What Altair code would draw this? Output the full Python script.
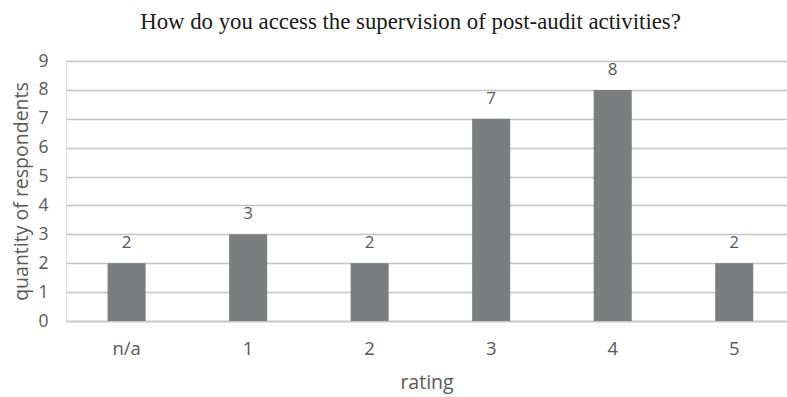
import altair as alt
import pandas as pd

categories = ["n/a", "1", "2", "3", "4", "5"]
counts = [2, 3, 2, 7, 8, 2]

df = pd.DataFrame({"rating": categories, "count": counts})

xscale = alt.Scale(paddingInner=0.687, paddingOuter=0.31, align=0.552)
yscale = alt.Scale(domain=[0, 9], nice=False)

x = alt.X("rating:N", sort=categories, title="rating", scale=xscale,
          axis=alt.Axis(labelAngle=0, ticks=False, domain=True, domainColor="#c4c4c4",
                        domainWidth=1.5, labelFont="Open Sans", labelFontSize=18.5,
                        labelColor="#595959", labelPadding=18, titleFont="Open Sans",
                        titleFontSize=19.5, titleFontWeight="normal", titleColor="#595959",
                        titlePadding=16, grid=False))

y = alt.Y("count:Q", title="quantity of respondents", scale=yscale,
          axis=alt.Axis(values=list(range(10)), ticks=False, domain=False,
                        labelOverlap=False,
                        gridColor="#c4c4c4", gridWidth=1.5, labelFont="Open Sans",
                        labelFontSize=17.5, labelColor="#595959", labelPadding=18,
                        titleFont="Open Sans", titleFontSize=19.5, titleFontWeight="normal",
                        titleColor="#595959", titlePadding=6))

base = alt.Chart(df).encode(x=x, y=y)
bars = base.mark_bar(color="#7b7d7f")
labels = base.mark_text(dy=-20, font="Open Sans", fontSize=17,
                        color="#595959").encode(text="count:Q")

chart = (bars + labels).properties(
    width=721, height=260,
    title=alt.TitleParams("How do you access the supervision of post-audit activities?",
                          font="Liberation Serif", fontSize=22.8, fontWeight="normal",
                          color="#1a1a1a", anchor="middle", dx=-16, offset=18),
    autosize=alt.AutoSizeParams(type="none"),
    padding={"left": 66, "top": 61, "right": 0, "bottom": 76},
).configure_view(stroke=None).configure(background="white")

chart.save("out.html", embed_options={"renderer": "svg", "actions": False})
